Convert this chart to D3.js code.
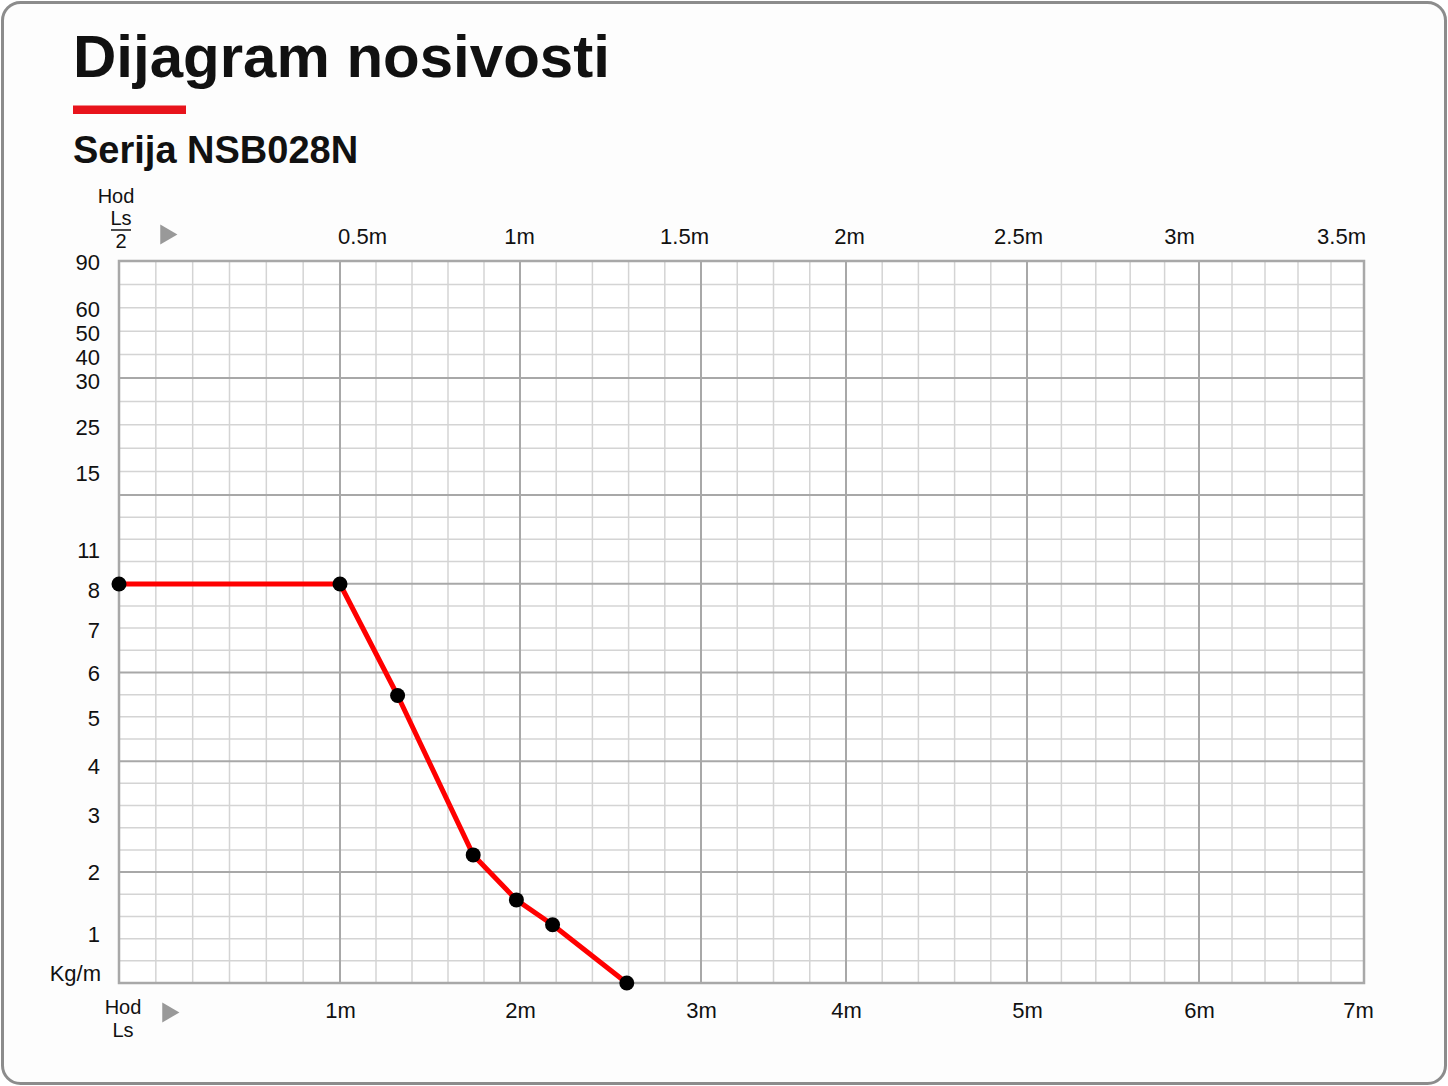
<!DOCTYPE html>
<html>
<head>
<meta charset="utf-8">
<script src="https://cdn.jsdelivr.net/npm/d3@7"></script>
<style>
  body { margin: 0; background: #fff; }
  text { font-family: "Liberation Sans", Arial, sans-serif; fill: #111; }
</style>
</head>
<body>
<div class="chart"></div>
<script>
// load curve: stroke Ls (m) vs allowed load (kg/m)
const strokeLs = [0, 1, 1.32, 1.74, 1.98, 2.18, 2.59];
const loadKg = [8, 8, 5.5, 2.3, 1.55, 1.15, 0];

const bottomTicks = [1, 2, 3, 4, 5, 6, 7];           // Hod Ls
const topTicks = [0.5, 1, 1.5, 2, 2.5, 3, 3.5];       // Hod Ls/2
const yTicks = [1, 2, 3, 4, 5, 6, 7, 8, 11, 15, 25, 30, 40, 50, 60, 90];
const subdivisions = [6, 5, 5, 4, 5, 5, 5];           // minor columns per metre
const majorRows = [5, 10, 14, 18, 22, 27];

const W = 1448, H = 1086;

const svg = d3.select('.chart')
  .append('svg')
  .attr('width', W)
  .attr('height', H);

// card
svg.append('rect')
  .attr('x', 2.5).attr('y', 2.5)
  .attr('width', W - 5).attr('height', H - 5)
  .attr('rx', 18)
  .attr('fill', '#fdfdfd')
  .attr('stroke', '#8c8c8c')
  .attr('stroke-width', 3);

svg.append('text')
  .attr('x', 73).attr('y', 77)
  .style('font-size', '60px').style('font-weight', 'bold')
  .text('Dijagram nosivosti');

svg.append('rect')
  .attr('x', 73).attr('y', 105.5)
  .attr('width', 113).attr('height', 8.5)
  .attr('fill', '#e8141c');

svg.append('text')
  .attr('x', 73).attr('y', 163)
  .style('font-size', '38px').style('font-weight', 'bold')
  .text('Serija NSB028N');

// scales (the chart's axes are not uniform, so piecewise)
const x = d3.scaleLinear()
  .domain([0, 1, 2, 3, 4, 5, 6, 7])
  .range([119, 340, 520, 701, 846, 1027, 1199, 1364]);

const xTop = d3.scaleLinear()
  .domain(topTicks)
  .range([362, 519, 684, 849, 1018, 1179, 1341]);

const y = d3.scaleLinear()
  .domain([0, 1, 2, 3, 4, 5, 6, 7, 8, 11, 15, 25, 30, 40, 50, 60, 90])
  .range([983, 934, 872, 815, 764, 718, 673, 628, 584, 550, 473, 427, 381, 357, 333, 309, 262]);

// grid rows
const rows = d3.scaleLinear()
  .domain([0, 10, 32])
  .range([261, 495, 983]);

const grid = svg.append('g');

grid.append('rect')
  .attr('x', x(0)).attr('y', rows(0))
  .attr('width', x(7) - x(0)).attr('height', rows(32) - rows(0))
  .attr('fill', '#fff');

const minorCols = [];
subdivisions.forEach((n, i) => {
  for (let k = 1; k < n; k++) minorCols.push(i + k / n);
});

grid.selectAll('.vminor')
  .data(minorCols)
  .enter().append('line')
  .attr('x1', d => x(d)).attr('x2', d => x(d))
  .attr('y1', rows(0)).attr('y2', rows(32))
  .attr('stroke', '#d4d4d4').attr('stroke-width', 1.5);

grid.selectAll('.hminor')
  .data(d3.range(1, 32).filter(r => !majorRows.includes(r)))
  .enter().append('line')
  .attr('x1', x(0)).attr('x2', x(7))
  .attr('y1', d => rows(d)).attr('y2', d => rows(d))
  .attr('stroke', '#d4d4d4').attr('stroke-width', 1.5);

grid.selectAll('.vmajor')
  .data(d3.range(1, 7))
  .enter().append('line')
  .attr('x1', d => x(d)).attr('x2', d => x(d))
  .attr('y1', rows(0)).attr('y2', rows(32))
  .attr('stroke', '#a8a8a8').attr('stroke-width', 2);

grid.selectAll('.hmajor')
  .data(majorRows)
  .enter().append('line')
  .attr('x1', x(0)).attr('x2', x(7))
  .attr('y1', d => rows(d)).attr('y2', d => rows(d))
  .attr('stroke', '#a8a8a8').attr('stroke-width', 2);

grid.append('rect')
  .attr('x', x(0)).attr('y', rows(0))
  .attr('width', x(7) - x(0)).attr('height', rows(32) - rows(0))
  .attr('fill', 'none')
  .attr('stroke', '#a8a8a8').attr('stroke-width', 2.5);

// axes (labels only)
function styleAxis(g) {
  g.select('.domain').remove();
  g.selectAll('line').remove();
  g.selectAll('text').style('font-size', '22px').attr('fill', '#111');
}

svg.append('g')
  .attr('transform', `translate(0, ${rows(32)})`)
  .call(d3.axisBottom(x).tickValues(bottomTicks).tickFormat(d => d + 'm').tickSize(0).tickPadding(19))
  .call(styleAxis)
  .selectAll('text')
  .filter(d => d === 7)
  .attr('dx', -6);

svg.append('g')
  .attr('transform', `translate(0, ${rows(0)})`)
  .call(d3.axisTop(xTop).tickValues(topTicks).tickFormat(d => d + 'm').tickSize(0).tickPadding(17))
  .call(styleAxis);

// a few left labels sit slightly under their lines in the original
const labelNudge = { 8: 6, 7: 2, 4: 2.5 };
svg.append('g')
  .attr('transform', `translate(${x(0)}, 0)`)
  .call(d3.axisLeft(y).tickValues(yTicks).tickFormat(d3.format('d')).tickSize(0).tickPadding(19))
  .call(styleAxis)
  .selectAll('text')
  .attr('y', d => labelNudge[d] || 0);

svg.append('text')
  .attr('x', 101).attr('y', 973).attr('dy', '0.35em')
  .attr('text-anchor', 'end')
  .style('font-size', '22px')
  .text('Kg/m');

// axis captions
const cap = svg.append('g').style('font-size', '20px');
cap.append('text').attr('x', 116).attr('y', 196).attr('dy', '0.35em').attr('text-anchor', 'middle').text('Hod');
cap.append('text').attr('x', 121).attr('y', 218).attr('dy', '0.35em').attr('text-anchor', 'middle').text('Ls');
cap.append('line').attr('x1', 111).attr('x2', 131).attr('y1', 230).attr('y2', 230)
  .attr('stroke', '#111').attr('stroke-width', 1.5);
cap.append('text').attr('x', 121).attr('y', 241).attr('dy', '0.35em').attr('text-anchor', 'middle').text('2');
cap.append('text').attr('x', 123).attr('y', 1007).attr('dy', '0.35em').attr('text-anchor', 'middle').text('Hod');
cap.append('text').attr('x', 123).attr('y', 1030).attr('dy', '0.35em').attr('text-anchor', 'middle').text('Ls');

const arrow = d3.symbol().type(d3.symbolTriangle).size(170);
[[166, 234.5], [168, 1012.5]].forEach(p => {
  svg.append('path')
    .attr('d', arrow())
    .attr('transform', `translate(${p[0]}, ${p[1]}) rotate(90)`)
    .attr('fill', '#999');
});

// curve
const pts = strokeLs.map((s, i) => ({ s, kg: loadKg[i] }));

svg.append('path')
  .datum(pts)
  .attr('fill', 'none')
  .attr('stroke', '#ff0000')
  .attr('stroke-width', 5)
  .attr('stroke-linejoin', 'round')
  .attr('d', d3.line().x(d => x(d.s)).y(d => y(d.kg)));

svg.selectAll('.dot')
  .data(pts)
  .enter().append('circle')
  .attr('cx', d => x(d.s))
  .attr('cy', d => y(d.kg))
  .attr('r', 7.5)
  .attr('fill', '#000');
</script>
</body>
</html>
